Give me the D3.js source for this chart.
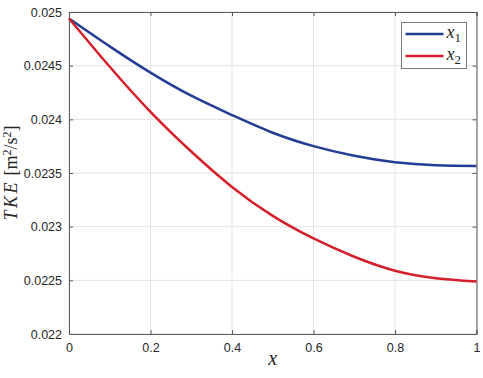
<!DOCTYPE html>
<html lang="en">
<head>
<meta charset="utf-8">
<script src="https://d3js.org/d3.v7.min.js"></script>
<style>
  body { margin: 0; background: #fff; }
  svg text { font-family: "Liberation Sans", Arial, sans-serif; }
  .math { font-family: "Liberation Serif", "DejaVu Serif", serif; font-style: italic; }
</style>
</head>
<body>
<svg id="chart" width="483" height="378"></svg>
<script>

// Data
const xs = [0, 0.1, 0.2, 0.3, 0.4, 0.5, 0.6, 0.7, 0.8, 0.9, 1.0];
const x1Values = [0.02494, 0.02468, 0.024435, 0.02422, 0.02404, 0.023875, 0.02375, 0.02366, 0.0236, 0.023572, 0.023566];
const x2Values = [0.02494, 0.02449, 0.02407, 0.02370, 0.02337, 0.02310, 0.02289, 0.02272, 0.02259, 0.02252, 0.02249];
const xTicks = [0, 0.2, 0.4, 0.6, 0.8, 1];
const yTicks = [0.022, 0.0225, 0.023, 0.0235, 0.024, 0.0245, 0.025];
const seriesNames = ["1", "2"];
const colors = ["#233d94", "#d3202a"];

const margin = {top: 12, right: 6.5, bottom: 44, left: 69},
    width = 483 - margin.left - margin.right,
    height = 378 - margin.top - margin.bottom;

const svg = d3.select("#chart")
  .append("g")
    .attr("transform", `translate(${margin.left},${margin.top})`);

const x = d3.scaleLinear().domain([0, 1]).range([0, width]);
const y = d3.scaleLinear().domain([0.022, 0.025]).range([height, 0]);

// grid
svg.append("g")
  .selectAll("line")
  .data(xTicks)
  .join("line")
    .attr("x1", d => x(d)).attr("x2", d => x(d))
    .attr("y1", 0).attr("y2", height)
    .attr("stroke", "#e3e3e3");
svg.append("g")
  .selectAll("line")
  .data(yTicks)
  .join("line")
    .attr("x1", 0).attr("x2", width)
    .attr("y1", d => y(d)).attr("y2", d => y(d))
    .attr("stroke", "#e3e3e3");

// axes, ticks inward
const fmtY = d => d3.format("")(+d.toFixed(4));
svg.append("g")
  .attr("transform", `translate(0,${height})`)
  .call(d3.axisBottom(x).tickValues(xTicks).tickSize(-4).tickPadding(9).tickFormat(d => +d.toFixed(1)));
svg.append("g")
  .call(d3.axisLeft(y).tickValues(yTicks).tickSize(-4).tickPadding(7).tickFormat(fmtY));
svg.append("g")
  .call(d3.axisTop(x).tickValues(xTicks).tickSize(-4).tickFormat(""));
svg.append("g")
  .attr("transform", `translate(${width},0)`)
  .call(d3.axisRight(y).tickValues(yTicks).tickSize(-4).tickFormat(""));

svg.selectAll(".domain, .tick line").attr("stroke", "#5a5a5a").attr("stroke-width", 1);
svg.selectAll(".tick text").attr("fill", "#262626").style("font-size", "12.5px");

// lines
const line = d3.line()
  .x((d, i) => x(xs[i]))
  .y(d => y(d))
  .curve(d3.curveNatural);

[x1Values, x2Values].forEach((vals, i) => {
  svg.append("path")
    .datum(vals)
    .attr("fill", "none")
    .attr("stroke", colors[i])
    .attr("stroke-width", 2.5)
    .attr("d", line);
});

// axis labels
svg.append("text")
  .attr("class", "math")
  .attr("x", width / 2)
  .attr("y", height + 31)
  .attr("text-anchor", "middle")
  .style("font-size", "20px")
  .attr("fill", "#262626")
  .text("x");

const ylab = svg.append("text")
  .attr("transform", `translate(${-52},${height / 2}) rotate(-90)`)
  .attr("text-anchor", "middle")
  .attr("fill", "#262626")
  .style("font-family", "'Liberation Serif', serif")
  .style("font-size", "18px");
ylab.append("tspan").attr("class", "math").style("letter-spacing", "2.5px").text("TKE");
ylab.append("tspan").text("  [m");
ylab.append("tspan").attr("dy", -6).style("font-size", "12px").text("2");
ylab.append("tspan").attr("dy", 6).text("/s");
ylab.append("tspan").attr("dy", -6).style("font-size", "12px").text("2");
ylab.append("tspan").attr("dy", 6).text("]");

// legend
const lg = svg.append("g").attr("transform", `translate(${401.5 - margin.left},${22.5 - margin.top})`);
lg.append("rect")
  .attr("width", 65).attr("height", 46)
  .attr("fill", "#fff")
  .attr("stroke", "#7a7a7a")
  .attr("stroke-width", 1);
seriesNames.forEach((s, i) => {
  const yy = 11.5 + i * 22;
  lg.append("line")
    .attr("x1", 4).attr("x2", 42)
    .attr("y1", yy).attr("y2", yy)
    .attr("stroke", colors[i]).attr("stroke-width", 2.5);
  const t = lg.append("text")
    .attr("x", 45).attr("y", yy + 4)
    .attr("fill", "#262626")
    .style("font-size", "18px");
  t.append("tspan").attr("class", "math").text("x");
  t.append("tspan").attr("dy", 4).style("font-family", "'Liberation Serif', serif").style("font-size", "13px").text(s);
});

</script>
</body>
</html>
